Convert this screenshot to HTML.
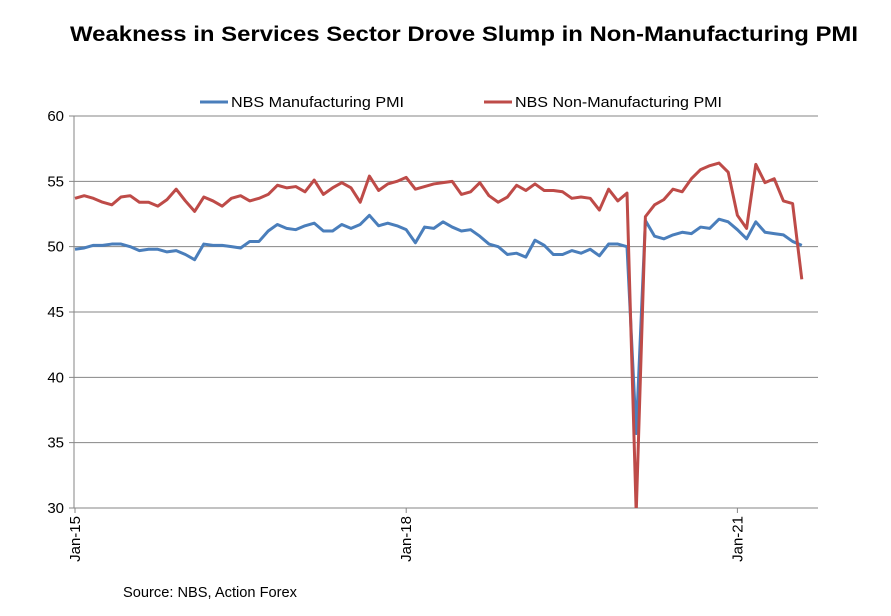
<!DOCTYPE html>
<html><head><meta charset="utf-8"><style>
body{margin:0;background:#fff;}
svg{display:block;font-family:"Liberation Sans",Arial,sans-serif;}
</style></head><body>
<svg width="891" height="616">
<defs><clipPath id="plotclip"><rect x="74" y="100" width="760" height="408"/></clipPath></defs>
<text x="70" y="41" font-size="21" font-weight="bold" textLength="788" lengthAdjust="spacingAndGlyphs">Weakness in Services Sector Drove Slump in Non-Manufacturing PMI</text>
<g>
<line x1="200" y1="102" x2="228" y2="102" stroke="#4a7ebb" stroke-width="3"/>
<text x="231" y="107" font-size="15" textLength="173" lengthAdjust="spacingAndGlyphs">NBS Manufacturing PMI</text>
<line x1="484" y1="102" x2="512" y2="102" stroke="#be4b48" stroke-width="3"/>
<text x="515" y="107" font-size="15" textLength="207" lengthAdjust="spacingAndGlyphs">NBS Non-Manufacturing PMI</text>
</g>
<g id="grid"></g><g id="axes"></g><g id="series" clip-path="url(#plotclip)"></g>
<text x="123" y="597" font-size="15" textLength="174" lengthAdjust="spacingAndGlyphs">Source: NBS, Action Forex</text>
</svg>
<script>
const yTicks=[30,35,40,45,50,55,60];
const xTickLabels=["Jan-15","Jan-18","Jan-21"];
const xTickIndex=[0,36,72];
const mfg=[49.8,49.9,50.1,50.1,50.2,50.2,50.0,49.7,49.8,49.8,49.6,49.7,
49.4,49.0,50.2,50.1,50.1,50.0,49.9,50.4,50.4,51.2,51.7,51.4,
51.3,51.6,51.8,51.2,51.2,51.7,51.4,51.7,52.4,51.6,51.8,51.6,
51.3,50.3,51.5,51.4,51.9,51.5,51.2,51.3,50.8,50.2,50.0,49.4,
49.5,49.2,50.5,50.1,49.4,49.4,49.7,49.5,49.8,49.3,50.2,50.2,
50.0,35.7,52.0,50.8,50.6,50.9,51.1,51.0,51.5,51.4,52.1,51.9,
51.3,50.6,51.9,51.1,51.0,50.9,50.4,50.1];
const nonMfg=[53.7,53.9,53.7,53.4,53.2,53.8,53.9,53.4,53.4,53.1,53.6,54.4,
53.5,52.7,53.8,53.5,53.1,53.7,53.9,53.5,53.7,54.0,54.7,54.5,
54.6,54.2,55.1,54.0,54.5,54.9,54.5,53.4,55.4,54.3,54.8,55.0,
55.3,54.4,54.6,54.8,54.9,55.0,54.0,54.2,54.9,53.9,53.4,53.8,
54.7,54.3,54.8,54.3,54.3,54.2,53.7,53.8,53.7,52.8,54.4,53.5,
54.1,29.6,52.3,53.2,53.6,54.4,54.2,55.2,55.9,56.2,56.4,55.7,
52.4,51.4,56.3,54.9,55.2,53.5,53.3,47.5];
const NS="http://www.w3.org/2000/svg";
const X0=75,PX=9.2,L=74,R=818,YT=116,YB=508;
const x=i=>X0+i*PX;
const y=v=>YB-(v-30)/30*(YB-YT);
function mk(t,a,p){const e=document.createElementNS(NS,t);for(const k in a)e.setAttribute(k,a[k]);p.appendChild(e);return e;}
const grid=document.getElementById('grid'),axes=document.getElementById('axes'),series=document.getElementById('series');
yTicks.forEach(v=>{
 const g=mk('line',{x1:L-5,x2:R,y1:y(v),y2:y(v),stroke:'#868686','stroke-width':1},grid);
 
 
 const t=mk('text',{x:L-10,y:y(v)+5,'text-anchor':'end','font-size':15},axes);
 t.textContent=v;
 
 
});
const ya=mk('line',{x1:L,x2:L,y1:YT,y2:YB,stroke:'#868686'},axes);


xTickIndex.forEach((ix,k)=>{
 const xx=x(ix);
 const tk=mk('line',{x1:xx,x2:xx,y1:YB,y2:YB+5,stroke:'#868686'},axes);
 
 
 const t=mk('text',{x:0,y:0,'text-anchor':'end','font-size':15,transform:`translate(${xx+5},${YB+8}) rotate(-90)`},axes);
 t.textContent=xTickLabels[k];
 
 
});
function line(d,c,n){
 const p=mk('polyline',{points:d.map((v,i)=>x(i)+','+y(v)).join(' '),fill:'none',stroke:c,'stroke-width':3,'stroke-linejoin':'round'},series);
 
 
}
line(mfg,'#4a7ebb','manufacturing-pmi-line');
line(nonMfg,'#be4b48','non-manufacturing-pmi-line');
</script>
</body></html>
